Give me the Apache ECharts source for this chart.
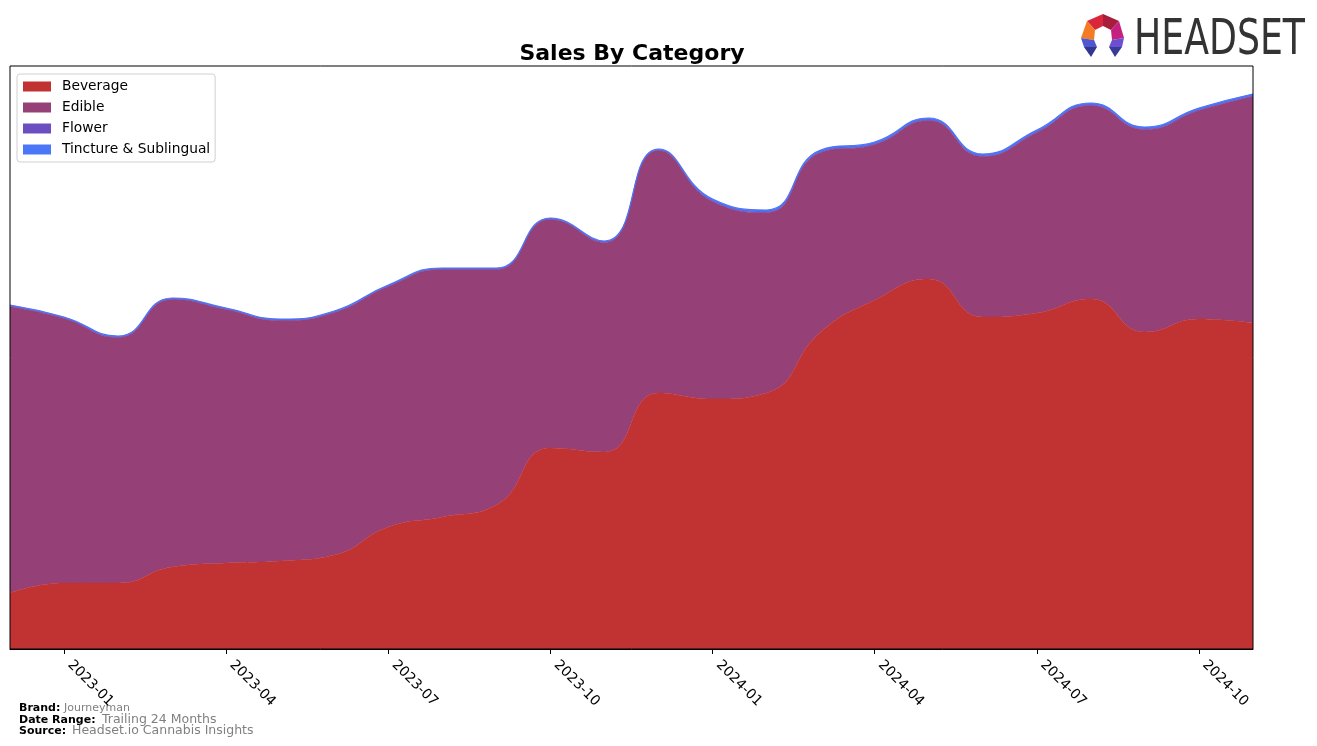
<!DOCTYPE html>
<html>
<head>
<meta charset="utf-8">
<script src="https://cdn.jsdelivr.net/npm/echarts@6/dist/echarts.min.js"></script>
<style>
html,body{margin:0;padding:0;background:#fff;}
#chart{width:1317px;height:746px;}
</style>
</head>
<body>
<div id="chart"></div>
<script>
const months = ['2022-12','2023-01','2023-02','2023-03','2023-04','2023-05','2023-06','2023-07','2023-08','2023-09','2023-10','2023-11','2023-12','2024-01','2024-02','2024-03','2024-04','2024-05','2024-06','2024-07','2024-08','2024-09','2024-10','2024-11'];
const tickLabels = ['2023-01','2023-04','2023-07','2023-10','2024-01','2024-04','2024-07','2024-10'];
const beverage = [56,66,66,82,86,88,94,122,132,144,201,197,256,250,256,317,349,370,332,336,350,317,330,326];
const edible = [286.5,264.5,245.5,267.5,253.5,240.5,242.5,240.5,247.5,235.5,228.5,209.5,242.5,197.5,180.5,179.5,155.5,158.5,160.5,180.5,193.5,202.5,208.5,226.5];
const flower = [0.5,0.5,0.5,0.5,0.5,0.5,0.5,0.5,0.5,0.5,0.5,0.5,0.5,0.5,0.5,0.5,0.5,0.5,0.5,0.5,0.5,0.5,0.5,0.5];
const tincture = [1,1,1,1,1,1,1,1,1,1,1,1,1,2,2,2,2,2,2,2,2,2,2,2];

const colors = {Beverage:'#C13333', Edible:'#954077', Flower:'#6B4EC0', 'Tincture & Sublingual':'#4B76F8'};
const seriesData = [['Beverage',beverage],['Edible',edible],['Flower',flower],['Tincture & Sublingual',tincture]];

const chart = echarts.init(document.getElementById('chart'), null, {renderer:'canvas'});
const FONT = 'DejaVu Sans';

const option = {
  animation:false,
  backgroundColor:'#fff',
  textStyle:{fontFamily:FONT},
  title:{
    text:'Sales By Category', left:627, top:38, textAlign:'center',
    textStyle:{fontFamily:FONT, fontWeight:'bold', fontSize:22, color:'#000'}
  },
  grid:{left:10, right:64, top:66, bottom:97, show:true, z:10, borderColor:'#000', borderWidth:1, backgroundColor:'transparent'},
  legend:{
    orient:'vertical', left:17, top:74, padding:[5,5,5,6],
    borderColor:'#d0d0d0', borderWidth:1, borderRadius:3, backgroundColor:'rgba(255,255,255,0.85)',
    itemWidth:28, itemHeight:10, itemGap:6, icon:'rect',
    textStyle:{fontFamily:FONT, fontSize:13.8, color:'#000', lineHeight:15, padding:[0,0,0,6]},
    data: seriesData.map(s=>s[0])
  },
  xAxis:{
    type:'category', data:months, boundaryGap:false,
    axisLine:{show:true, lineStyle:{color:'#000'}},
    axisTick:{show:true, length:5, lineStyle:{color:'#000'}, interval:(i,v)=>tickLabels.indexOf(v)>=0},
    axisLabel:{rotate:-45, margin:8, padding:[0,0,0,8], fontFamily:FONT, fontSize:14, color:'#000',
      interval:(i,v)=>tickLabels.indexOf(v)>=0},
    splitLine:{show:false}
  },
  yAxis:{type:'value', min:0, max:583, show:false, splitLine:{show:false}},
  series: seriesData.map(([name,vals])=>({
    name, type:'line', stack:'total', data:vals, smooth:0.5, symbol:'none',
    itemStyle:{color:colors[name]},
    lineStyle:{width:name==='Tincture & Sublingual'?1.2:0.6, color:colors[name]},
    areaStyle:{color:colors[name], opacity:1}
  })),
  graphic:[
    // HEADSET logo
    {type:'polygon', shape:{points:[[1103,14],[1087,21],[1095,30],[1103,26]]}, style:{fill:'#D9263B'}},
    {type:'polygon', shape:{points:[[1103,14],[1103,26],[1111,30],[1119,21]]}, style:{fill:'#A81C3C'}},
    {type:'polygon', shape:{points:[[1087,21],[1081,38],[1094,40],[1095,30]]}, style:{fill:'#F47A26'}},
    {type:'polygon', shape:{points:[[1119,21],[1124,38],[1112,40],[1111,30]]}, style:{fill:'#C4207F'}},
    {type:'polygon', shape:{points:[[1081,38],[1094,40],[1097,47],[1084,47]]}, style:{fill:'#5058D0'}},
    {type:'polygon', shape:{points:[[1084,47],[1097,47],[1091,57]]}, style:{fill:'#33368F'}},
    {type:'polygon', shape:{points:[[1124,38],[1112,40],[1109,47],[1122,47]]}, style:{fill:'#6B4FD0'}},
    {type:'polygon', shape:{points:[[1109,47],[1122,47],[1115,57]]}, style:{fill:'#3A3A98'}},
    {type:'text', x:1134, y:17, scaleX:0.74, style:{text:'HEADSET', fontFamily:FONT, fontSize:49, fill:'#333333', textVerticalAlign:'top'}},
    // footer
    {type:'text', x:19, y:703, style:{text:'Brand:', fontFamily:FONT, fontWeight:'bold', fontSize:11, fill:'#000'}},
    {type:'text', x:64, y:703, style:{text:'Journeyman', fontFamily:FONT, fontSize:11, fill:'#808080'}},
    {type:'text', x:19, y:715, style:{text:'Date Range:', fontFamily:FONT, fontWeight:'bold', fontSize:11, fill:'#000'}},
    {type:'text', x:102, y:713, style:{text:'Trailing 24 Months', fontFamily:FONT, fontSize:12.5, fill:'#808080'}},
    {type:'text', x:19, y:726, style:{text:'Source:', fontFamily:FONT, fontWeight:'bold', fontSize:11, fill:'#000'}},
    {type:'text', x:72, y:724, style:{text:'Headset.io Cannabis Insights', fontFamily:FONT, fontSize:12.5, fill:'#808080'}}
  ]
};
chart.setOption(option);
</script>
</body>
</html>
